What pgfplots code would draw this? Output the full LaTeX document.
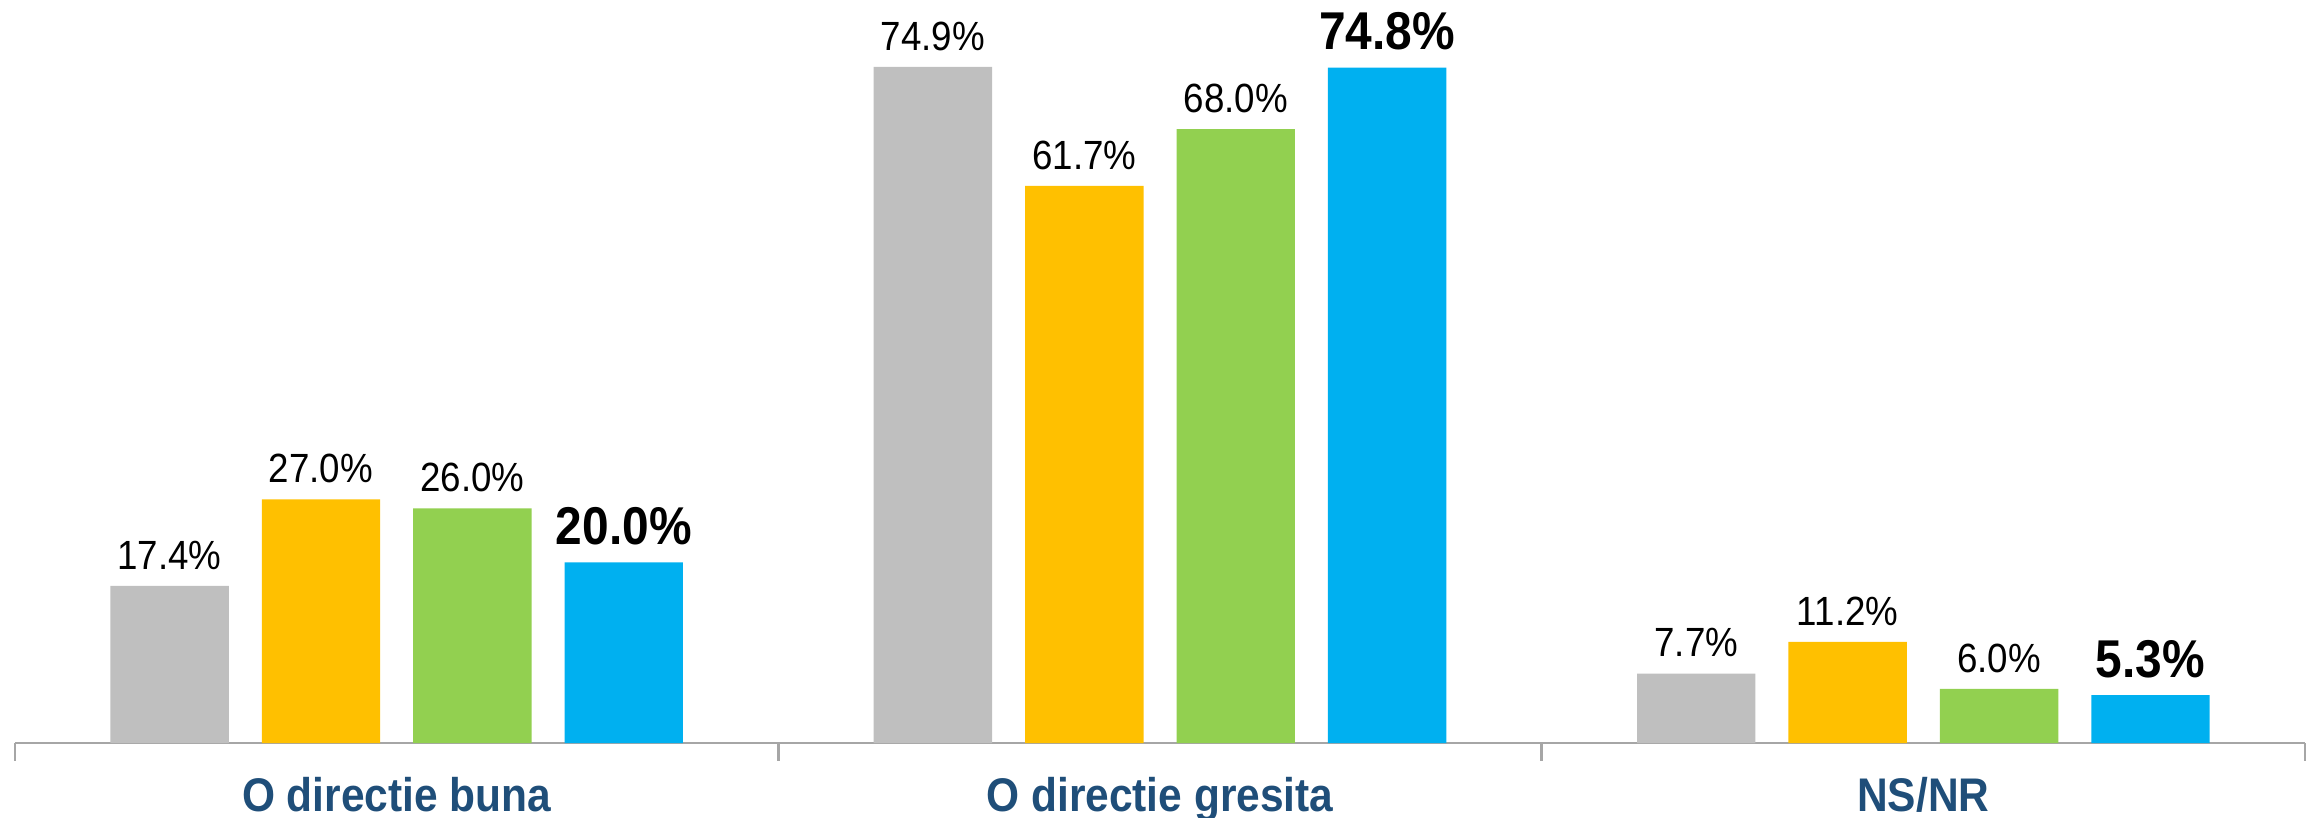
\documentclass[border=0pt]{standalone}
\usepackage{fontspec}
\setmainfont[FakeStretch=0.9]{Liberation Sans}
\usepackage{pgfplots}
\pgfplotsset{compat=1.18}
\definecolor{cgray}{HTML}{BFBFBF}
\definecolor{cyellow}{HTML}{FFC000}
\definecolor{cgreen}{HTML}{92D050}
\definecolor{cblue}{HTML}{00B0F0}
\definecolor{catblue}{HTML}{1F4E79}
\definecolor{axgray}{HTML}{A6A6A6}
\begin{document}
\begin{tikzpicture}
\useasboundingbox (0,0) rectangle (580pt,204.25pt);
\begin{axis}[
    at={(3.75pt,18.5pt)}, anchor=south west,
    scale only axis,
    width=572.5pt, height=185.75pt,
    xmin=-0.5, xmax=2.5,
    ymin=0, ymax=82.3,
    ybar=8.25pt, bar width=29.6pt,
    axis x line*=bottom, axis y line=none,
    axis line style={draw=axgray, line width=0.7pt},
    xtick={0,1,2},
    xticklabels={O directie buna, O directie gresita, NS/NR},
    major x tick style={draw=none},
    major tick length=0pt,
    minor xtick={-0.5,0.5,1.5,2.5},
    minor tick length=4.4pt,
    minor x tick style={draw=axgray, line width=0.7pt},
    tick align=outside,
    xticklabel style={anchor=base, yshift=-17pt, font=\fontsize{11.8pt}{13pt}\selectfont\bfseries, text=catblue},
    nodes near coords={\pgfmathprintnumber[assume math mode=true,fixed,fixed zerofill,precision=1]{\pgfplotspointmeta}\%},
    nodes near coords style={anchor=base, yshift=4.2pt, font=\fontsize{10.2pt}{12pt}\selectfont, text=black},
]
\addplot[draw=none, fill=cgray] coordinates {(0,17.4) (1,74.9) (2,7.7)};
\addplot[draw=none, fill=cyellow] coordinates {(0,27.0) (1,61.7) (2,11.2)};
\addplot[draw=none, fill=cgreen] coordinates {(0,26.0) (1,68.0) (2,6.0)};
% the last series has its labels larger and bold
\addplot[draw=none, fill=cblue,
    nodes near coords style={yshift=0.3pt, font=\fontsize{13.3pt}{15pt}\selectfont\bfseries}]
    coordinates {(0,20.0) (1,74.8) (2,5.3)};
\end{axis}
\end{tikzpicture}
\end{document}
